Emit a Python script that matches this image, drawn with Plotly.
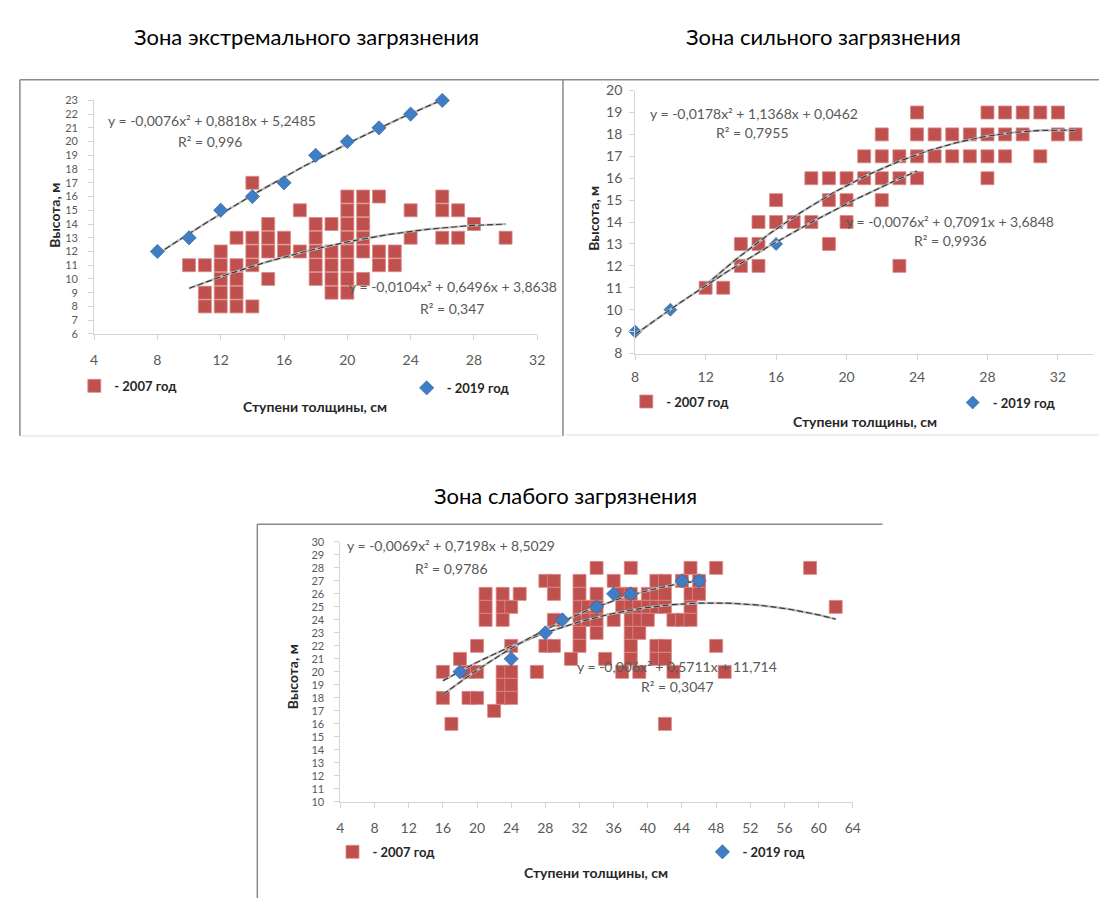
import numpy as np
import plotly.graph_objects as go

W, H = 1107, 898


def px(x):
    return x / W


def py(y):
    return 1 - y / H


RED = "#C0504D"
BLUE = "#3F7DC4"
TXT = "#595959"
FONT = "Lato"

# ---------------- data ----------------
titles = ["Зона экстремального загрязнения", "Зона сильного загрязнения", "Зона слабого загрязнения"]
x_title = "Ступени толщины, см"
y_title = "Высота, м"
leg_2007 = "- 2007 год"
leg_2019 = "- 2019 год"

# Panel 1 (extreme pollution): 2007 – columns by thickness step
p1_red_steps = [10, 11, 12, 13, 14, 15, 16, 17, 18, 19, 20, 21, 22, 23, 24, 26, 27, 28, 30]
p1_red_heights = [
    [11], [11, 9, 8], [12, 11, 10, 9, 8], [13, 11, 10, 9, 8], [17, 13, 12, 11, 8],
    [14, 13, 12, 10], [13, 12], [15, 12], [14, 13, 12, 11, 10], [14, 12, 11, 10, 9],
    [16, 15, 14, 13, 12, 11, 10, 9], [16, 15, 14, 13, 12, 10], [16, 12, 11], [12, 11],
    [15, 13], [16, 15, 13], [15, 13], [14], [13],
]
p1_blue_x = [8, 10, 12, 14, 16, 18, 20, 22, 24, 26]
p1_blue_y = [12, 13, 15, 16, 17, 19, 20, 21, 22, 23]
p1_fit_red = [-0.0104, 0.6496, 3.8638]
p1_fit_blue = [-0.0076, 0.8818, 5.2485]

# Panel 2 (strong pollution): 2007 – rows by height
p2_red_levels = [19, 18, 17, 16, 15, 14, 13, 12, 11]
p2_red_steps = [
    [24, 28, 29, 30, 31, 32],
    [22, 24, 25, 26, 27, 28, 29, 30, 32, 33],
    [21, 22, 23, 24, 25, 26, 27, 28, 29, 31],
    [18, 19, 20, 21, 22, 23, 24, 28],
    [16, 19, 20, 22],
    [15, 16, 17, 18, 20],
    [14, 15, 19],
    [14, 15, 23],
    [12, 13],
]
p2_blue_x = [8, 10, 16]
p2_blue_y = [9, 10, 13]
p2_fit_red = [-0.0178, 1.1368, 0.0462]
p2_fit_blue = [-0.0076, 0.7091, 3.6848]

# Panel 3 (weak pollution): 2007 – rows by height
p3_red_levels = [28, 27, 26, 25, 24, 23, 22, 21, 20, 19, 18, 17, 16]
p3_red_steps = [
    [34, 38, 45, 48, 59],
    [28, 29, 32, 36, 41, 42, 44, 46],
    [21, 23, 25, 29, 32, 34, 37, 38, 40, 41, 42, 45, 46],
    [21, 23, 24, 32, 33, 34, 37, 38, 39, 40, 41, 42, 45, 62],
    [21, 23, 29, 32, 33, 34, 36, 38, 39, 40, 43, 44, 45],
    [32, 34, 38, 39],
    [20, 24, 28, 29, 32, 38, 41, 42, 48],
    [18, 31, 35, 38, 41, 42],
    [16, 19, 20, 23, 24, 27, 37, 39, 43, 49],
    [23, 24],
    [16, 19, 20, 23, 24],
    [22],
    [17, 42],
]
p3_blue_x = [18, 24, 28, 30, 34, 36, 38, 44, 46]
p3_blue_y = [20, 21, 23, 24, 25, 26, 26, 27, 27]
p3_fit_red = [-0.006, 0.5711, 11.714]
p3_fit_blue = [-0.0069, 0.7198, 8.5029]

eq_texts = [
    ("y = -0,0076x² + 0,8818x + 5,2485", "R² = 0,996"),
    ("y = -0,0104x² + 0,6496x + 3,8638", "R² = 0,347"),
    ("y = -0,0178x² + 1,1368x + 0,0462", "R² = 0,7955"),
    ("y = -0,0076x² + 0,7091x + 3,6848", "R² = 0,9936"),
    ("y = -0,0069x² + 0,7198x + 8,5029", "R² = 0,9786"),
    ("y = -0,006x² + 0,5711x + 11,714", "R² = 0,3047"),
]


def cols_to_xy(steps, heights):
    xs, ys = [], []
    for s, hs in zip(steps, heights):
        for h in hs:
            xs.append(s)
            ys.append(h)
    return xs, ys


def rows_to_xy(levels, steps):
    xs, ys = [], []
    for lv, ss in zip(levels, steps):
        for s in ss:
            xs.append(s)
            ys.append(lv)
    return xs, ys


fig = go.Figure()


def trend(coef, x0, x1, xa, ya):
    xs = np.linspace(x0, x1, 80)
    ys = coef[0] * xs ** 2 + coef[1] * xs + coef[2]
    fig.add_trace(go.Scatter(x=xs, y=ys, mode="lines", xaxis=xa, yaxis=ya,
                             line=dict(color="#bdbdbd", width=2.4), showlegend=False,
                             hoverinfo="skip"))
    fig.add_trace(go.Scatter(x=xs, y=ys, mode="lines", xaxis=xa, yaxis=ya,
                             line=dict(color="#3a3a3a", width=1.2, dash="6px,3px"),
                             showlegend=False, hoverinfo="skip"))


def red(xs, ys, xa, ya, leg, size):
    fig.add_trace(go.Scatter(x=xs, y=ys, mode="markers", xaxis=xa, yaxis=ya, name=leg_2007,
                             legend=leg, cliponaxis=False,
                             marker=dict(symbol="square", size=size, color=RED,
                                         line=dict(color="#D98A88", width=0.8))))


def blue(xs, ys, xa, ya, leg, size):
    fig.add_trace(go.Scatter(x=xs, y=ys, mode="markers", xaxis=xa, yaxis=ya, name=leg_2019,
                             legend=leg, cliponaxis=False,
                             marker=dict(symbol="diamond", size=size, color=BLUE,
                                         line=dict(color="#2F5F99", width=0.6))))


# Panel 1
x1r, y1r = cols_to_xy(p1_red_steps, p1_red_heights)
red(x1r, y1r, "x", "y", "legend", 13)
trend(p1_fit_red, 10, 30, "x", "y")
trend(p1_fit_blue, 8, 26, "x", "y")
blue(p1_blue_x, p1_blue_y, "x", "y", "legend2", 11)

# Panel 2
x2r, y2r = rows_to_xy(p2_red_levels, p2_red_steps)
blue(p2_blue_x, p2_blue_y, "x2", "y2", "legend4", 10)
red(x2r, y2r, "x2", "y2", "legend3", 13)
trend(p2_fit_red, 12, 33, "x2", "y2")
trend(p2_fit_blue, 8, 24, "x2", "y2")

# Panel 3
x3r, y3r = rows_to_xy(p3_red_levels, p3_red_steps)
red(x3r, y3r, "x3", "y3", "legend5", 13)
trend(p3_fit_red, 16, 62, "x3", "y3")
trend(p3_fit_blue, 16, 46, "x3", "y3")
blue(p3_blue_x, p3_blue_y, "x3", "y3", "legend6", 11)

tickfont = dict(family=FONT, size=14, color=TXT)
smallfont = dict(family=FONT, size=11, color=TXT)
axcommon = dict(showline=True, linecolor="#d4d4d4", linewidth=1, ticks="outside", ticklen=5,
                tickcolor="#d4d4d4", showgrid=False, zeroline=False)

fig.update_layout(
    width=W, height=H, margin=dict(l=0, r=0, t=0, b=0), autosize=False,
    paper_bgcolor="white", plot_bgcolor="white",
    xaxis=dict(domain=[px(83), px(531)], range=[4, 32], tick0=4, dtick=4, anchor="y",
               ticklabelstandoff=8, tickfont=tickfont, **axcommon),
    yaxis=dict(domain=[py(323), py(85)], range=[6, 23], tick0=6, dtick=1, anchor="x",
               ticklabelstandoff=8, tickfont=smallfont, **axcommon),
    xaxis2=dict(domain=[px(630), px(1093)], range=[8, 34], tick0=8, dtick=4, anchor="y2",
                ticklabelstandoff=6, tickfont=tickfont, **axcommon),
    yaxis2=dict(domain=[py(343), py(75)], range=[8, 20], tick0=8, dtick=1, anchor="x2",
                ticklabelstandoff=4, tickfont=tickfont, **axcommon),
    xaxis3=dict(domain=[px(332), px(850)], range=[4, 64], tick0=4, dtick=4, anchor="y3",
                ticklabelstandoff=8, tickfont=tickfont, **axcommon),
    yaxis3=dict(domain=[py(800), py(535)], range=[10, 30], tick0=10, dtick=1, anchor="x3",
                ticklabelstandoff=8, tickfont=smallfont, **axcommon),
)

legfont = dict(family=FONT, size=13, color="#262626", weight="bold")
leg_pos = {
    "legend": (92, 376), "legend2": (428, 378),
    "legend3": (650, 392), "legend4": (980, 393),
    "legend5": (353, 851), "legend6": (727, 851),
}
for k, (lx, ly) in leg_pos.items():
    fig.update_layout({k: dict(x=px(lx - 29), y=py(ly), xanchor="left", yanchor="middle",
                               bgcolor="rgba(0,0,0,0)", borderwidth=0, font=legfont,
                               itemsizing="trace", tracegroupgap=0)})

ann = []
# titles
for t, (tx, ty) in zip(titles, [(298, 20), (820, 20), (560, 488)]):
    ann.append(dict(text=t, x=px(tx), y=py(ty), xref="paper", yref="paper", showarrow=False,
                    xanchor="center", yanchor="middle", font=dict(family=FONT, size=22, color="#000")))
# axis titles
for (tx, ty) in [(306, 397), (862, 412), (590, 872)]:
    ann.append(dict(text=x_title, x=px(tx), y=py(ty), xref="paper", yref="paper", showarrow=False,
                    xanchor="center", yanchor="middle",
                    font=dict(family=FONT, size=14, color="#262626", weight="bold")))
for (tx, ty) in [(43, 202), (587, 205), (283, 672)]:
    ann.append(dict(text=y_title, x=px(tx), y=py(ty), xref="paper", yref="paper", showarrow=False,
                    xanchor="center", yanchor="middle", textangle=-90,
                    font=dict(family=FONT, size=14, color="#262626", weight="bold")))
# equations
eq_pos = [((202, 105), (200, 127)), ((446, 275), (445, 297)),
          ((750, 98), (749, 118)), ((948, 208), (949, 228)),
          ((444, 539), (444, 562)), ((672, 662), (673, 682))]
for (eq, r2), ((ex, ey), (rx, ry)) in zip(eq_texts, eq_pos):
    for t, (tx, ty) in [(eq, (ex, ey)), (r2, (rx, ry))]:
        ann.append(dict(text=t, x=px(tx), y=py(ty), xref="paper", yref="paper", showarrow=False,
                        xanchor="center", yanchor="middle", font=dict(family=FONT, size=14, color=TXT)))
fig.update_layout(annotations=ann)

# panel frames
shapes = []
def line(x0, y0, x1, y1, color="#8a8a8a", w=1.5):
    shapes.append(dict(type="line", xref="paper", yref="paper", x0=px(x0), y0=py(y0),
                       x1=px(x1), y1=py(y1), line=dict(color=color, width=w)))

line(8, 64, 557, 64)
line(8, 64, 8, 427)
line(557, 64, 557, 427)
line(8, 427, 557, 427, "#dcdcdc", 1)
line(557, 64, 1100, 64)
line(1100, 64, 1100, 425, "#9a9a9a", 1.2)
line(560, 426, 1100, 426, "#dcdcdc", 1)
line(248, 517, 880, 517)
line(248, 517, 248, 898)
fig.update_layout(shapes=shapes)

fig.write_html("out.html")
